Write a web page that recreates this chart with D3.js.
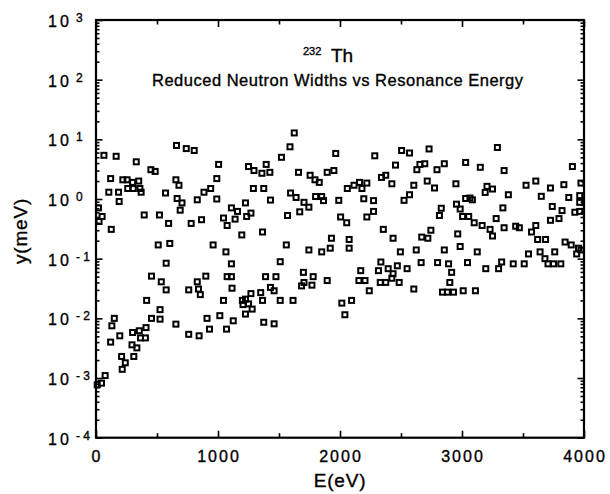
<!DOCTYPE html>
<html>
<head>
<meta charset="utf-8">
<script src="https://cdn.jsdelivr.net/npm/d3@7"></script>
<style>
  body { margin: 0; background: #fff; }
  text { font-family: "Liberation Sans", Arial, Helvetica, sans-serif; fill: #000; stroke: #000; stroke-width: 0.35px; }
</style>
</head>
<body>
<svg id="chart"></svg>
<script>
// resonance energy (eV) and reduced neutron width (meV)
const energy = [
  65, 165, 660, 740, 805, 330, 1005, 450, 485, 120, 220, 255, 300, 350, 655, 990,
  105, 185, 260, 305, 360, 370, 680, 570, 885, 940, 830, 990, 190, 665, 705, 690,
  20, 50, 25, 125, 395, 520, 595, 780, 865, 510, 605, 960, 575, 455, 535, 575,
  900, 830, 760, 840, 855, 415, 150, 130, 195, 120, 455, 525, 525, 655, 410, 355,
  300, 365, 405, 295, 335, 210, 310, 240, 215, 760, 845, 910, 930, 75, 45, 10,
  1625, 1590, 1520, 1965, 1250, 1295, 1360, 1395, 1425, 1660, 1755, 1795, 1830, 1895, 1950, 1290,
  1375, 1430, 1595, 1640, 1705, 1745, 1670, 1800, 1850, 1865, 1990, 1110, 1160, 1225, 1270, 1235,
  1045, 1140, 1075, 1570, 2005, 1195, 1365, 1560, 1930, 1920, 1850, 1745, 1065, 1110, 1510, 1075,
  1110, 1115, 1390, 1475, 1430, 1460, 1700, 1780, 1705, 1685, 1770, 1895, 1045, 1200, 1270, 1225,
  1350, 1365, 1510, 1615, 1205, 1250, 1280, 1225, 1015, 1125, 1070, 1375, 1460, 2015, 2040,
  2730, 2505, 2570, 2285, 2455, 2630, 2655, 2695, 2795, 2855, 3030, 2340, 2375, 2425, 2060, 2115,
  2160, 2180, 2220, 2605, 2715, 2775, 2950, 2195, 2275, 2525, 2570, 3030, 2955, 2985, 2830, 2815,
  3005, 2275, 2220, 2055, 2355, 2435, 2670, 2720, 2745, 2965, 2985, 2855, 2625, 2495, 2075, 2075,
  2170, 2335, 2315, 2395, 2470, 2435, 2550, 2665, 2800, 2890, 2915, 3045, 2155, 2205, 2330, 2375,
  2425, 2485, 2240, 2605, 2900, 2840, 2880, 2930, 3010, 2095,
  3290, 3150, 3345, 3905, 3525, 3605, 3725, 3835, 3975, 3205, 3250, 3190, 3380, 3650, 3875, 3965,
  3065, 3085, 3335, 3740, 3965, 3820, 3925, 3965, 3055, 3100, 3165, 3230, 3250, 3280, 3345, 3440,
  3470, 3605, 3570, 3620, 3685, 3725, 3795, 3845, 3895, 3955, 3940, 3975, 3125, 3545, 3640, 3760,
  3195, 3300, 3325, 3420, 3510, 3705, 3750, 3810, 3680, 3110
];
const widthMeV = [
  5.4, 5.2, 7.9, 7.0, 6.5, 4.2, 3.8, 3.1, 2.9, 2.2, 2.1, 2.1, 1.9, 2.0, 2.1, 2.2,
  1.3, 1.3, 1.5, 1.5, 1.5, 1.3, 1.7, 1.26, 1.3, 1.5, 0.97, 1.0, 0.91, 1.02, 0.86, 0.65,
  0.71, 0.51, 0.42, 0.31, 0.54, 0.54, 0.39, 0.39, 0.45, 0.17, 0.18, 0.17, 0.084, 0.051, 0.041, 0.030,
  0.051, 0.041, 0.030, 0.031, 0.025, 0.020, 0.010, 0.0075, 0.0051, 0.0040, 0.010, 0.014, 0.0097, 0.0080, 0.0070, 0.0062,
  0.0058, 0.0047, 0.0047, 0.0036, 0.0032, 0.0023, 0.0023, 0.0018, 0.0014, 0.0054, 0.0051, 0.010, 0.0066, 0.0011, 0.00082, 0.00077,
  12.8, 7.5, 5.0, 5.8, 3.5, 3.0, 2.7, 3.8, 2.8, 2.8, 2.5, 2.1, 1.9, 2.8, 3.0, 1.5,
  1.5, 0.96, 1.26, 1.06, 0.88, 0.73, 0.61, 1.1, 1.1, 0.94, 0.95, 0.71, 0.62, 0.86, 0.58, 0.51,
  0.48, 0.46, 0.36, 0.53, 0.50, 0.25, 0.28, 0.17, 0.22, 0.15, 0.13, 0.14, 0.13, 0.082, 0.089, 0.050,
  0.050, 0.032, 0.050, 0.050, 0.033, 0.029, 0.059, 0.050, 0.040, 0.035, 0.036, 0.043, 0.020, 0.020, 0.026, 0.021,
  0.027, 0.020, 0.020, 0.020, 0.017, 0.0175, 0.0143, 0.0118, 0.0111, 0.0091, 0.0066, 0.0086, 0.0081, 0.018, 0.0115,
  6.9, 6.5, 5.9, 5.3, 3.7, 3.1, 3.8, 3.9, 3.1, 3.9, 4.1, 2.3, 2.5, 1.8, 1.5, 1.7,
  1.9, 1.5, 1.85, 1.7, 2.0, 1.53, 1.8, 1.01, 0.94, 0.95, 1.18, 1.02, 0.82, 0.68, 0.70, 0.53,
  0.51, 0.62, 0.50, 0.40, 0.31, 0.22, 0.23, 0.22, 0.30, 0.26, 0.16, 0.14, 0.14, 0.13, 0.21, 0.15,
  0.063, 0.088, 0.063, 0.068, 0.076, 0.056, 0.068, 0.086, 0.086, 0.082, 0.059, 0.086, 0.043, 0.043, 0.040, 0.040,
  0.047, 0.040, 0.029, 0.031, 0.040, 0.0275, 0.0275, 0.0275, 0.029, 0.020,
  7.3, 3.4, 3.0, 3.5, 1.7, 2.0, 1.53, 1.74, 1.85, 1.63, 1.47, 1.29, 1.18, 1.11, 1.06, 1.14,
  1.04, 0.97, 0.71, 0.75, 0.88, 0.64, 0.60, 0.62, 0.51, 0.40, 0.36, 0.31, 0.24, 0.47, 0.33, 0.35,
  0.33, 0.36, 0.28, 0.21, 0.21, 0.44, 0.47, 0.19, 0.17, 0.15, 0.12, 0.14, 0.13, 0.12, 0.13, 0.13,
  0.068, 0.068, 0.088, 0.082, 0.082, 0.082, 0.082, 0.082, 0.10, 0.029
];
const xTickLabels = [0, 1000, 2000, 3000, 4000];
const xMinorTicks = [500, 1500, 2500, 3500];
const decades = [-4, -3, -2, -1, 0, 1, 2, 3];

const W = 610, H = 494;
const plotLeft = 96, plotRight = 584, plotTop = 20, plotBottom = 437.7;

const data = energy.map((e, i) => ({ e: e, w: widthMeV[i] }));

const svg = d3.select('#chart')
  .attr('width', W)
  .attr('height', H)
  .attr('viewBox', [0, 0, W, H]);

const x = d3.scaleLinear().domain([0, 4000]).range([plotLeft, plotRight]);
const y = d3.scaleLog().domain([1e-4, 1e3]).range([plotBottom, plotTop]);

const majorY = decades.map((d) => Math.pow(10, d));
const minorY = [];
decades.slice(0, -1).forEach((d) => {
  for (let k = 2; k <= 9; k++) minorY.push(k * Math.pow(10, d));
});

// inward ticks on all four sides
function ticks(axis, tx, ty) {
  const g = svg.append('g')
    .attr('transform', `translate(${tx},${ty})`)
    .call(axis.tickFormat(''));
  g.select('.domain').remove();
  g.selectAll('line').attr('stroke', '#000').attr('stroke-width', 1.6);
}
ticks(d3.axisLeft(y).tickValues(minorY).tickSize(-3.5), plotLeft, 0);
ticks(d3.axisLeft(y).tickValues(majorY).tickSize(-6.5), plotLeft, 0);
ticks(d3.axisRight(y).tickValues(minorY).tickSize(-3.5), plotRight, 0);
ticks(d3.axisRight(y).tickValues(majorY).tickSize(-6.5), plotRight, 0);
ticks(d3.axisBottom(x).tickValues(xMinorTicks).tickSize(-4.5), 0, plotBottom);
ticks(d3.axisBottom(x).tickValues(xTickLabels).tickSize(-7), 0, plotBottom);
ticks(d3.axisTop(x).tickValues(xMinorTicks).tickSize(-4.5), 0, plotTop);
ticks(d3.axisTop(x).tickValues(xTickLabels).tickSize(-7), 0, plotTop);

// frame
svg.append('rect')
  .attr('x', plotLeft).attr('y', plotTop)
  .attr('width', plotRight - plotLeft).attr('height', plotBottom - plotTop)
  .attr('fill', 'none').attr('stroke', '#000').attr('stroke-width', 2.2);

// x labels
svg.append('g').selectAll('text')
  .data(xTickLabels)
  .join('text')
  .attr('x', (d) => x(d) + 1)
  .attr('y', 461.5)
  .attr('text-anchor', 'middle')
  .style('font-size', '16px')
  .style('letter-spacing', '2px')
  .text((d) => d);

// y labels: 10 with exponent
const yl = svg.append('g').selectAll('g')
  .data(decades)
  .join('g');
yl.append('text')
  .attr('x', 48)
  .attr('y', (d) => y(Math.pow(10, d)) + 7)
  .style('font-size', '16px')
  .style('letter-spacing', '3px')
  .text('10');
yl.append('text')
  .attr('x', 76)
  .attr('y', (d) => y(Math.pow(10, d)) + 2)
  .style('font-size', '12px')
  .style('white-space', 'pre')
  .text((d) => d < 0 ? `- ${-d}` : `${d}`);

svg.append('text')
  .attr('x', 340).attr('y', 487)
  .attr('text-anchor', 'middle')
  .style('font-size', '19px')
  .style('letter-spacing', '0.8px')
  .text('E(eV)');

svg.append('text')
  .attr('transform', 'translate(27,231) rotate(-90)')
  .attr('text-anchor', 'middle')
  .style('font-size', '19px')
  .style('letter-spacing', '0.8px')
  .text('y(meV)');

// title
svg.append('text').attr('x', 303).attr('y', 55).style('font-size', '11px').text('232');
svg.append('text').attr('x', 331).attr('y', 61.5).style('font-size', '19px').text('Th');
svg.append('text')
  .attr('x', 152).attr('y', 86)
  .attr('textLength', 371).attr('lengthAdjust', 'spacing')
  .style('font-size', '16.5px')
  .text('Reduced Neutron Widths vs Resonance Energy');

// open square markers
const s = 5;
svg.append('g').selectAll('rect')
  .data(data)
  .join('rect')
  .attr('x', (d) => x(d.e) - s / 2)
  .attr('y', (d) => y(d.w) - s / 2)
  .attr('width', s)
  .attr('height', s)
  .attr('fill', 'none')
  .attr('stroke', '#000')
  .attr('stroke-width', 2);
</script>
</body>
</html>
